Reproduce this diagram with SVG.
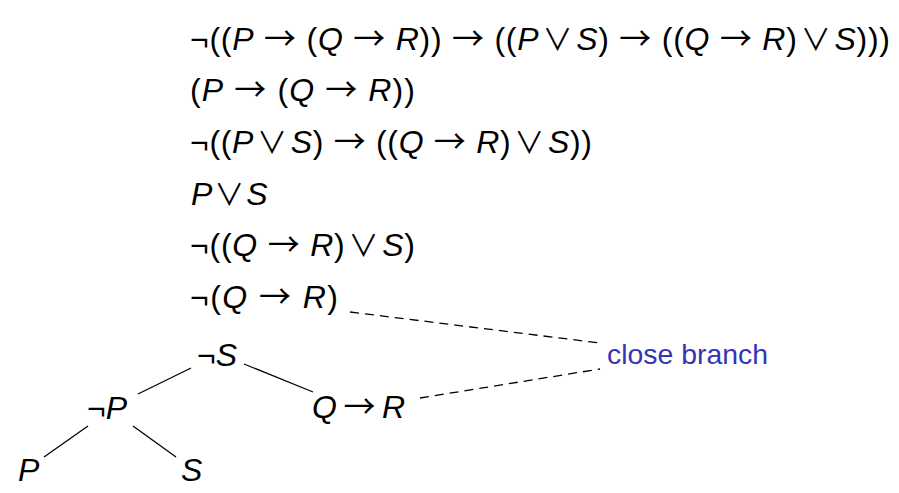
<svg xmlns="http://www.w3.org/2000/svg" width="899" height="493" viewBox="0 0 899 493">
<style>
.t{font-family:"Liberation Sans","DejaVu Sans",sans-serif;font-size:32px;fill:#000}
.i{font-style:italic}
.s{font-family:"Noto Sans CJK JP","DejaVu Sans",sans-serif;font-style:normal;font-size:30px}
.a{font-family:"Noto Sans CJK JP","DejaVu Sans",sans-serif;font-style:normal;font-size:32px}
.lbl{font-family:"Liberation Sans","DejaVu Sans",sans-serif;font-size:28px;fill:#3535b5}
.e{stroke:#000;stroke-width:1.3;fill:none}
.d{stroke:#000;stroke-width:1.3;fill:none;stroke-dasharray:9 6}
</style>
<rect width="899" height="493" fill="#fff"/>
<g id="connectors">
<line class="e" x1="191" y1="368" x2="138" y2="394"/>
<line class="e" x1="244" y1="364" x2="313" y2="392"/>
<line class="e" x1="88" y1="426" x2="44" y2="457"/>
<line class="e" x1="133" y1="426" x2="176" y2="457"/>
<line class="d" x1="350" y1="312" x2="600" y2="343"/>
<line class="d" x1="420" y1="398" x2="600" y2="369"/>
</g>
<g id="n1"><text class="t" x="190" y="50" textLength="700" lengthAdjust="spacing">¬((<tspan class="i">P</tspan> <tspan class="a">→</tspan> (<tspan class="i">Q</tspan> <tspan class="a">→</tspan> <tspan class="i">R</tspan>)) <tspan class="a">→</tspan> ((<tspan class="i">P</tspan><tspan class="s" dx="3">∨</tspan><tspan class="i" dx="3">S</tspan>) <tspan class="a">→</tspan> ((<tspan class="i">Q</tspan> <tspan class="a">→</tspan> <tspan class="i">R</tspan>)<tspan class="s" dx="3">∨</tspan><tspan class="i" dx="3">S</tspan>)))</text></g>
<g id="n2"><text class="t" x="190" y="101" textLength="225" lengthAdjust="spacing">(<tspan class="i">P</tspan> <tspan class="a">→</tspan> (<tspan class="i">Q</tspan> <tspan class="a">→</tspan> <tspan class="i">R</tspan>))</text></g>
<g id="n3"><text class="t" x="190" y="153" textLength="402" lengthAdjust="spacing">¬((<tspan class="i">P</tspan><tspan class="s" dx="3">∨</tspan><tspan class="i" dx="3">S</tspan>) <tspan class="a">→</tspan> ((<tspan class="i">Q</tspan> <tspan class="a">→</tspan> <tspan class="i">R</tspan>)<tspan class="s" dx="3">∨</tspan><tspan class="i" dx="3">S</tspan>))</text></g>
<g id="n4"><text class="t" x="191" y="205"><tspan class="i">P</tspan><tspan class="s" dx="2">∨</tspan><tspan class="i" dx="2">S</tspan></text></g>
<g id="n5"><text class="t" x="190" y="256" textLength="225" lengthAdjust="spacing">¬((<tspan class="i">Q</tspan> <tspan class="a">→</tspan> <tspan class="i">R</tspan>)<tspan class="s" dx="3">∨</tspan><tspan class="i" dx="3">S</tspan>)</text></g>
<g id="n6"><text class="t" x="190" y="308" textLength="148" lengthAdjust="spacing">¬(<tspan class="i">Q</tspan> <tspan class="a">→</tspan> <tspan class="i">R</tspan>)</text></g>
<g id="n7"><text class="t" x="197" y="366">¬<tspan class="i">S</tspan></text></g>
<g id="n8"><text class="t" x="87" y="419">¬<tspan class="i">P</tspan></text></g>
<g id="n9"><text class="t" x="312" y="418" textLength="93" lengthAdjust="spacing"><tspan class="i">Q</tspan> <tspan class="a">→</tspan> <tspan class="i">R</tspan></text></g>
<g id="n10"><text class="t i" x="18" y="481">P</text></g>
<g id="n11"><text class="t i" x="181" y="481">S</text></g>
<g id="n12"><text class="lbl" x="607" y="364" textLength="161" lengthAdjust="spacingAndGlyphs">close branch</text></g>
</svg>
